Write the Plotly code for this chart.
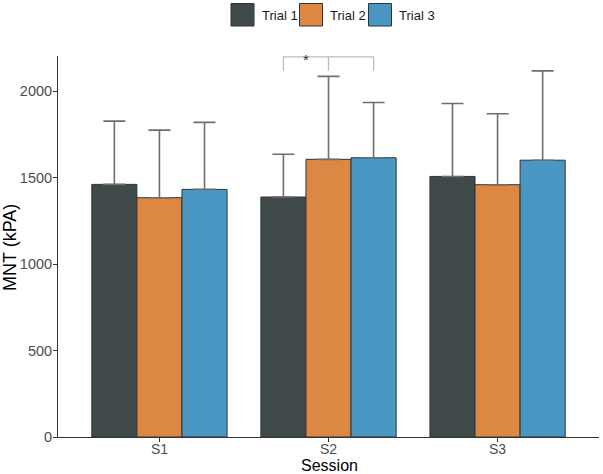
import plotly.graph_objects as go

sessions = ["S1", "S2", "S3"]
trials = ["Trial 1", "Trial 2", "Trial 3"]
means = {
    "Trial 1": [1462, 1389, 1508],
    "Trial 2": [1385, 1607, 1460],
    "Trial 3": [1433, 1616, 1602],
}
upper = {
    "Trial 1": [1828, 1636, 1930],
    "Trial 2": [1776, 2087, 1871],
    "Trial 3": [1821, 1936, 2119],
}
colors = {"Trial 1": "#404a4b", "Trial 2": "#dc8842", "Trial 3": "#4a97c4"}

W, H = 603, 474
# plot area in page pixels
PX0, PX1, PY0, PY1 = 58, 599, 56, 437
ML, MR = PX0, W - PX1
MT, MB = PY0, H - PY1
PW = PX1 - PX0
PH = PY1 - PY0

bargap = 0.2
fig = go.Figure()
for t in trials:
    fig.add_trace(go.Bar(
        x=sessions, y=means[t], name=t, showlegend=False,
        marker=dict(color=colors[t], line=dict(color="#2e3436", width=1)),
        error_y=dict(type="data", symmetric=False,
                     array=[u - m for u, m in zip(upper[t], means[t])],
                     arrayminus=[0, 0, 0],
                     color="#6e6e6e", thickness=1.6, width=11),
    ))

# significance bracket (S2: Trial 1 vs Trial 3)
sig_top, sig_drop = 2200, 2120
off = (1 - bargap) / 3
xa, xm, xb = 1 - off, 1, 1 + off
fig.add_shape(type="path", xref="x", yref="y",
              path=f"M {xa},{sig_drop} L {xa},{sig_top} L {xb},{sig_top} L {xb},{sig_drop} M {xm},{sig_top} L {xm},{sig_drop}",
              line=dict(color="#bdbdbd", width=1.3))
fig.add_annotation(x=(xa + xm) / 2 - 0.002, y=sig_top, text="*", showarrow=False,
                   xref="x", yref="y", yanchor="middle", yshift=-3,
                   font=dict(size=15, color="#333333", family="Liberation Sans"))

# page pixel -> paper coords
def px(x):
    return (x - PX0) / PW
def py(y):
    return (PY1 - y) / PH

legend_boxes = [(231, 254), (299.5, 322.5), (368.5, 391.5)]
legend_text_x = [260, 328, 397]
for t, (x0, x1), tx in zip(trials, legend_boxes, legend_text_x):
    fig.add_shape(type="rect", xref="paper", yref="paper",
                  x0=px(x0), x1=px(x1), y0=py(26), y1=py(3.5),
                  fillcolor=colors[t], line=dict(color="#2e3436", width=1))
    fig.add_annotation(x=px(tx), y=py(15), xref="paper", yref="paper",
                       text=t, showarrow=False, xanchor="left", yanchor="middle",
                       font=dict(size=13, color="#1a1a1a", family="Liberation Sans"))

# axis titles
fig.add_annotation(x=px(329), y=py(465.5), xref="paper", yref="paper", text="Session",
                   showarrow=False, xanchor="center", yanchor="middle",
                   font=dict(size=16, color="#000000", family="Liberation Sans"))
fig.add_annotation(x=px(10), y=py(248), xref="paper", yref="paper", text="MNT (kPA)",
                   showarrow=False, xanchor="center", yanchor="middle", textangle=-90,
                   font=dict(size=18, color="#000000", family="Liberation Sans"))

fig.update_layout(
    width=W, height=H,
    margin=dict(l=ML, r=MR, t=MT, b=MB),
    paper_bgcolor="white", plot_bgcolor="white",
    barmode="group", bargap=bargap, bargroupgap=0,
    showlegend=False,
    font=dict(family="Liberation Sans", color="#4d4d4d", size=14),
)
fig.update_xaxes(
    range=[-0.6, 2.6], showline=True, linecolor="#333333", linewidth=1,
    ticks="outside", ticklen=4, tickcolor="#333333", showgrid=False,
    tickfont=dict(size=14, color="#4d4d4d"), automargin=False,
    ticklabelstandoff=-5,
)
fig.update_yaxes(
    range=[0, 2205], showline=True, linecolor="#333333", linewidth=1,
    ticks="outside", ticklen=4, tickcolor="#333333", showgrid=False, zeroline=False,
    tickvals=[0, 500, 1000, 1500, 2000],
    tickfont=dict(size=14.5, color="#4d4d4d"), automargin=False,
    ticklabelstandoff=-2,
)

fig.write_html(
    "out.html",
    config={"displayModeBar": False},
    post_script="document.body.style.margin='0';document.body.style.overflow='hidden';",
)
